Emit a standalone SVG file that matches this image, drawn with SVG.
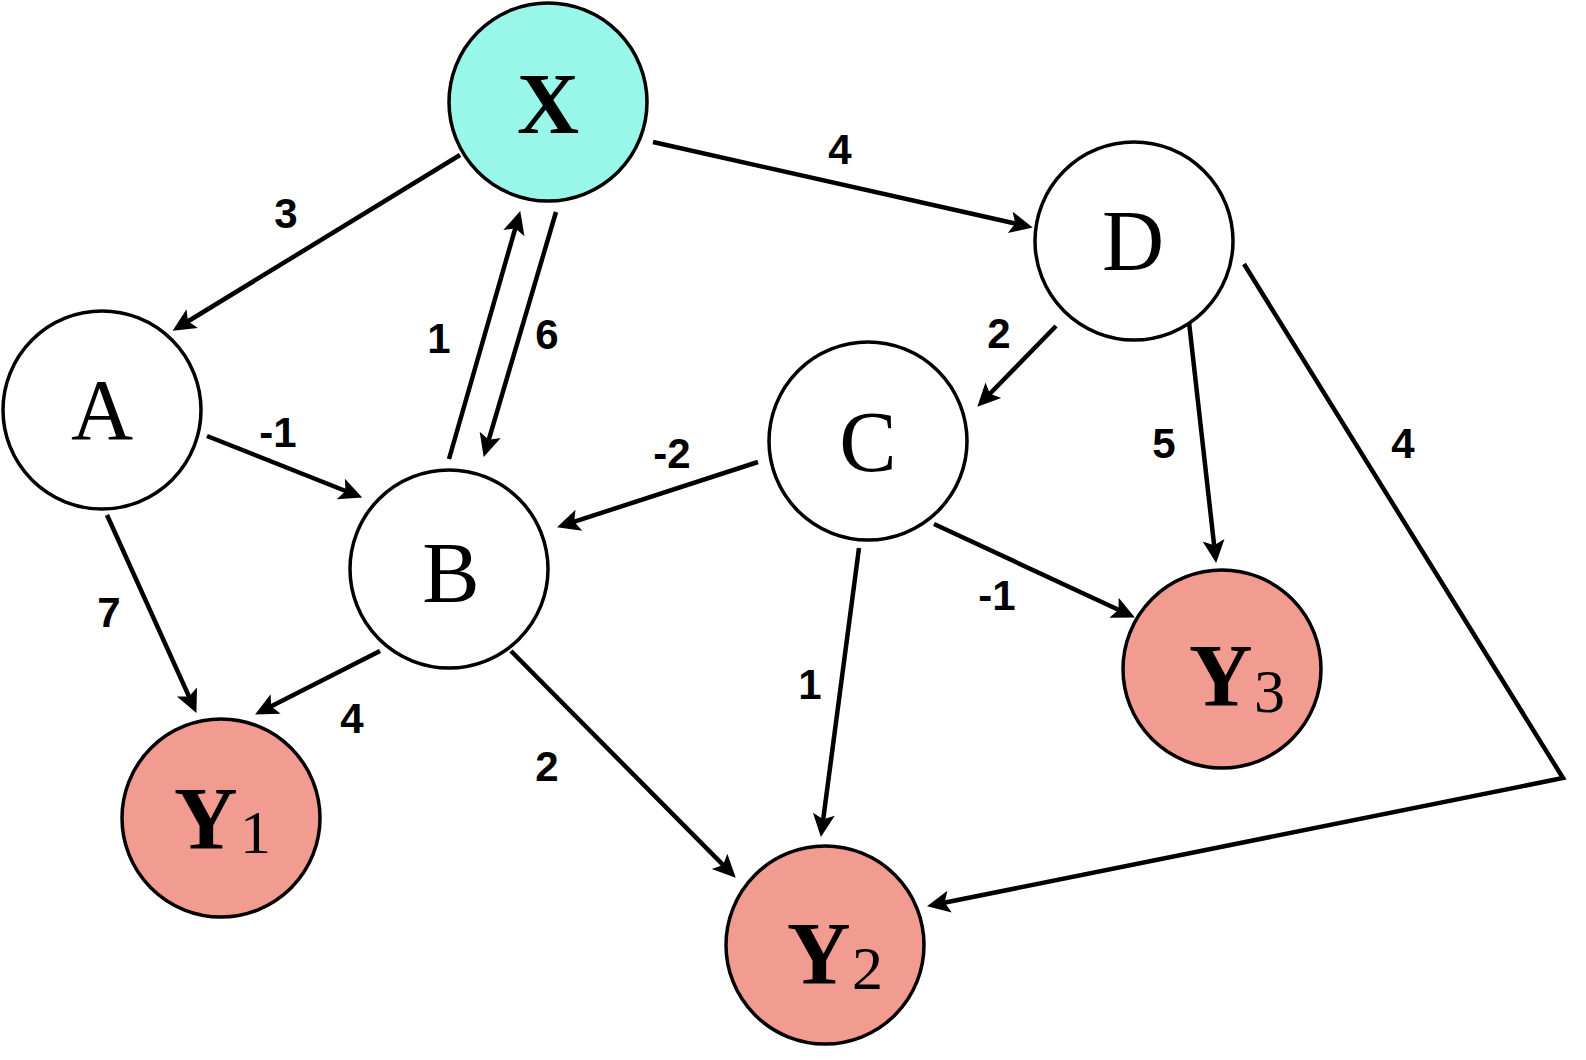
<svg xmlns="http://www.w3.org/2000/svg" width="1586" height="1060" viewBox="0 0 1586 1060">
<style>
.n{stroke:#000;stroke-width:3.5}
.w{fill:#fff}
.x{fill:#98F7E9}
.y{fill:#F29B91}
.lt{font-family:"Liberation Serif","Times New Roman",serif;font-size:86px;fill:#000;text-anchor:middle}
.yl{font-family:"Liberation Serif","Times New Roman",serif;font-size:88px;font-weight:bold;fill:#000}
.sub{font-size:62px;font-weight:normal}
.e{fill:none;stroke:#000;stroke-width:4.5;marker-end:url(#ah)}
.lb{font-family:"Liberation Sans",Arial,sans-serif;font-size:42px;font-weight:bold;fill:#000;text-anchor:middle}
</style>
<defs>
<marker id="ah" markerUnits="userSpaceOnUse" viewBox="-2 -13 27 26" markerWidth="27" markerHeight="26" refX="12" refY="0" orient="auto">
<path d="M23,0 L0,-11 L5,0 L0,11 Z" fill="#000"/>
</marker>
</defs>
<rect width="1586" height="1060" fill="#fff"/>
<g id="connectors">
<line class="e" x1="460" y1="155" x2="182" y2="325"/>
<line class="e" x1="653" y1="142" x2="1022" y2="225"/>
<line class="e" x1="449" y1="459" x2="517.2" y2="221.6"/>
<line class="e" x1="556" y1="212" x2="486.8" y2="446.4"/>
<line class="e" x1="207" y1="436" x2="352" y2="493.5"/>
<line class="e" x1="107" y1="515" x2="191.9" y2="702.9"/>
<line class="e" x1="758" y1="462" x2="567.5" y2="523.9"/>
<line class="e" x1="1056" y1="326" x2="985" y2="398.8"/>
<line class="e" x1="1189" y1="322" x2="1214.9" y2="552.1"/>
<polyline class="e" points="1244,264 1563,778 937.8,904"/>
<line class="e" x1="934" y1="524" x2="1124.9" y2="612.8"/>
<line class="e" x1="859" y1="548" x2="822.3" y2="826.1"/>
<line class="e" x1="380" y1="651" x2="264.9" y2="709.5"/>
<line class="e" x1="511" y1="651" x2="728" y2="869.9"/>
<text class="lb" x="286" y="228">3</text>
<text class="lb" x="840" y="164">4</text>
<text class="lb" x="439" y="353">1</text>
<text class="lb" x="547" y="349">6</text>
<text class="lb" x="278" y="447">-1</text>
<text class="lb" x="109" y="627">7</text>
<text class="lb" x="672" y="468">-2</text>
<text class="lb" x="999" y="348">2</text>
<text class="lb" x="1164" y="458">5</text>
<text class="lb" x="1403" y="458">4</text>
<text class="lb" x="997" y="610">-1</text>
<text class="lb" x="810" y="699">1</text>
<text class="lb" x="352" y="733">4</text>
<text class="lb" x="547" y="781">2</text>
</g>
<g id="node-X"><circle class="n x" cx="548" cy="102" r="99"/><text class="lt" x="548" y="133" font-weight="bold">X</text></g>
<g id="node-D"><circle class="n w" cx="1134" cy="241" r="99"/><text class="lt" x="1133" y="270">D</text></g>
<g id="node-A"><circle class="n w" cx="102" cy="410" r="99"/><text class="lt" x="102" y="439">A</text></g>
<g id="node-C"><circle class="n w" cx="868" cy="441" r="99"/><text class="lt" x="868" y="471">C</text></g>
<g id="node-B"><circle class="n w" cx="449" cy="569" r="99"/><text class="lt" x="451" y="602">B</text></g>
<g id="node-Y3"><circle class="n y" cx="1222" cy="669" r="99"/><text class="yl" x="1189" y="705">Y<tspan class="sub" x="1254" y="712">3</tspan></text></g>
<g id="node-Y1"><circle class="n y" cx="221" cy="818" r="99"/><text class="yl" x="174" y="848">Y<tspan class="sub" x="240" y="853">1</tspan></text></g>
<g id="node-Y2"><circle class="n y" cx="825" cy="945" r="99"/><text class="yl" x="787" y="983">Y<tspan class="sub" x="852" y="989">2</tspan></text></g>
</svg>
